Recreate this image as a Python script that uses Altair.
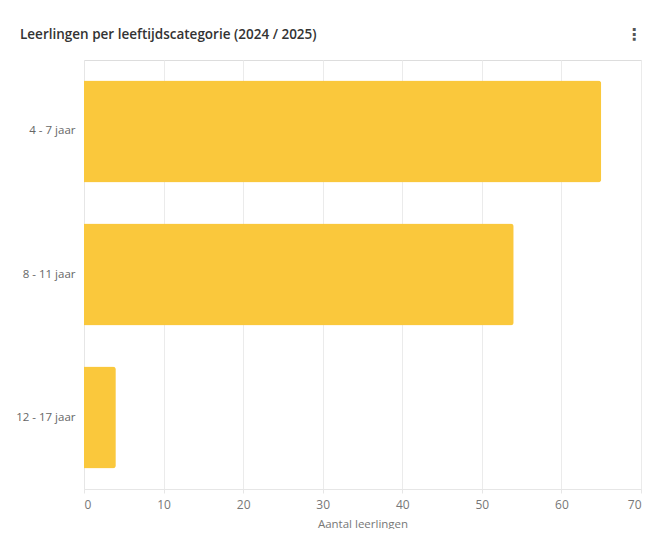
import altair as alt
import pandas as pd

categories = ["4 - 7 jaar", "8 - 11 jaar", "12 - 17 jaar"]
values = [65, 54, 4]
x_ticks = [0, 10, 20, 30, 40, 50, 60, 70]
title_text = "Leerlingen per leeftijdscategorie (2024 / 2025)"
x_title = "Aantal leerlingen"

df = pd.DataFrame({"categorie": categories, "aantal": values})
FONT = "Open Sans"

bars = alt.Chart(df).mark_bar(color="#FAC83C", cornerRadiusEnd=3).encode(
    x=alt.X("aantal:Q",
            scale=alt.Scale(domain=[0, 70], nice=False),
            axis=alt.Axis(values=x_ticks, title=x_title, grid=True, gridColor="#ebebeb",
                          domainColor="#e6e6e6", tickColor="#e6e6e6", tickSize=4,
                          labelColor="#777777", labelFontSize=12, labelFont=FONT,
                          titleColor="#777777", titleFontSize=11.5, titleFont=FONT,
                          titleFontWeight="normal", titlePadding=8, labelPadding=6)),
    y=alt.Y("categorie:N", sort=categories,
            scale=alt.Scale(paddingInner=0.287, paddingOuter=0.143),
            axis=alt.Axis(title=None, ticks=False, domain=True, domainColor="#e6e6e6",
                          labelColor="#666666", labelFontSize=11.5, labelFont=FONT,
                          labelPadding=9)),
)

title = alt.Chart(pd.DataFrame({"t": [title_text]})).mark_text(
    align="left", baseline="middle", font=FONT, fontSize=13.5, fontWeight=600, color="#333333"
).encode(x=alt.value(-64), y=alt.value(-25), text="t:N")

dots = alt.Chart(pd.DataFrame({"t": ["⋮"]})).mark_text(
    align="center", baseline="middle", font="DejaVu Sans", fontSize=16, fontWeight="bold", color="#555555"
).encode(x=alt.value(550), y=alt.value(-25), text="t:N")

chart = alt.layer(bars, title, dots).properties(
    width=557, height=429,
    padding={"left": 76, "top": 52, "right": 4, "bottom": 40},
    autosize=alt.AutoSizeParams(type="none"),
).configure_view(stroke=None).configure(background="white")

chart.save("out.html", embed_options={"renderer": "svg", "actions": False})
